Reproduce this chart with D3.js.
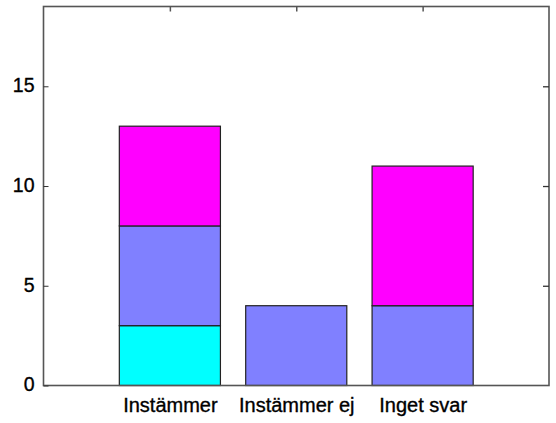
<!DOCTYPE html>
<html lang="sv">
    <head>
        <meta charset="utf-8">
        <title>Instämmer / Instämmer ej / Inget svar</title>
        <script type="text/javascript" src="https://d3js.org/d3.v7.min.js"></script>
        <style type="text/css">
            body { margin: 0; background: #fff; }
            text { font-family: "Liberation Sans", Arial, sans-serif; }
        </style>
    </head>
    <body>
        <script type="text/javascript">

        //Data
        const categories = ["Instämmer", "Instämmer ej", "Inget svar"];
        const seriesCyan    = [3, 0, 0];
        const seriesBlue    = [5, 4, 4];
        const seriesMagenta = [5, 0, 7];
        const yTicks = [0, 5, 10, 15];

        const seriesColors = ["#00ffff", "#8080ff", "#ff00ff"];

        //Sizes
        const width = 556;
        const height = 423;
        const plotLeft = 43.5, plotRight = 549, plotTop = 6.5, plotBottom = 385.5;

        //Scales - categories sit at 1, 2, 3 on a 0..4 axis
        const xScale = d3.scaleLinear()
                        .domain([0, 4])
                        .range([plotLeft, plotRight]);

        const yScale = d3.scaleLinear()
                        .domain([0, 19])
                        .range([plotBottom, plotTop]);

        const barWidth = 0.8;

        //SVG
        const svg = d3.select("body")
                    .append("svg")
                    .attr("width", width)
                    .attr("height", height);

        //Stacked data
        const rows = categories.map((c, i) => ({
            cat: c, pos: i + 1,
            s0: seriesCyan[i], s1: seriesBlue[i], s2: seriesMagenta[i]
        }));
        const stacked = d3.stack().keys(["s0", "s1", "s2"])(rows);

        //Bars
        stacked.forEach((layer, li) => {
            svg.append("g")
                .selectAll("rect")
                .data(layer.filter(d => d[1] > d[0]))
                .enter()
                .append("rect")
                .attr("x", d => xScale(d.data.pos - barWidth / 2))
                .attr("y", d => yScale(d[1]))
                .attr("width", d => xScale(d.data.pos + barWidth / 2) - xScale(d.data.pos - barWidth / 2))
                .attr("height", d => yScale(d[0]) - yScale(d[1]))
                .attr("fill", seriesColors[li])
                .attr("stroke", "#222")
                .attr("stroke-width", 1.2);
        });

        //Frame
        svg.append("rect")
            .attr("x", plotLeft)
            .attr("y", plotTop)
            .attr("width", plotRight - plotLeft)
            .attr("height", plotBottom - plotTop)
            .attr("fill", "none")
            .attr("stroke", "#555")
            .attr("stroke-width", 1.6);

        //Left axis (ticks pointing inward)
        const leftAxis = d3.axisLeft(yScale)
                           .tickValues(yTicks)
                           .tickSize(-5)
                           .tickPadding(9);
        const gLeft = svg.append("g")
            .attr("transform", "translate(" + plotLeft + ",0)")
            .call(leftAxis);
        gLeft.select(".domain").remove();
        gLeft.selectAll("line").attr("stroke", "#333");
        gLeft.selectAll("text")
            .attr("font-size", "19.5px")
            .attr("font-family", "Liberation Sans, Arial, sans-serif")
            .attr("fill", "#000")
            .attr("stroke", "#000")
            .attr("stroke-width", 0.35)
            .attr("dy", "0.28em");

        //Right axis ticks (no labels)
        const rightAxis = d3.axisRight(yScale)
                            .tickValues(yTicks.filter(v => v > 0))
                            .tickSize(-6)
                            .tickFormat("");
        const gRight = svg.append("g")
            .attr("transform", "translate(" + plotRight + ",0)")
            .call(rightAxis);
        gRight.select(".domain").remove();
        gRight.selectAll("line").attr("stroke", "#333").attr("stroke-width", 1.3);

        //Bottom axis labels
        const bottomAxis = d3.axisBottom(xScale)
                             .tickValues(rows.map(d => d.pos))
                             .tickFormat((d, i) => categories[i])
                             .tickSize(0)
                             .tickPadding(12);
        const gBottom = svg.append("g")
            .attr("transform", "translate(0," + plotBottom + ")")
            .call(bottomAxis);
        gBottom.select(".domain").remove();
        gBottom.selectAll("text")
            .attr("font-size", "20px")
            .attr("font-family", "Liberation Sans, Arial, sans-serif")
            .attr("fill", "#000")
            .attr("stroke", "#000")
            .attr("stroke-width", 0.35);

        //Top axis ticks (inward)
        const topAxis = d3.axisTop(xScale)
                          .tickValues(rows.map(d => d.pos))
                          .tickSize(-5)
                          .tickFormat("");
        const gTop = svg.append("g")
            .attr("transform", "translate(0," + plotTop + ")")
            .call(topAxis);
        gTop.select(".domain").remove();
        gTop.selectAll("line").attr("stroke", "#555").attr("stroke-width", 1.5);

        </script>
    </body>
</html>
